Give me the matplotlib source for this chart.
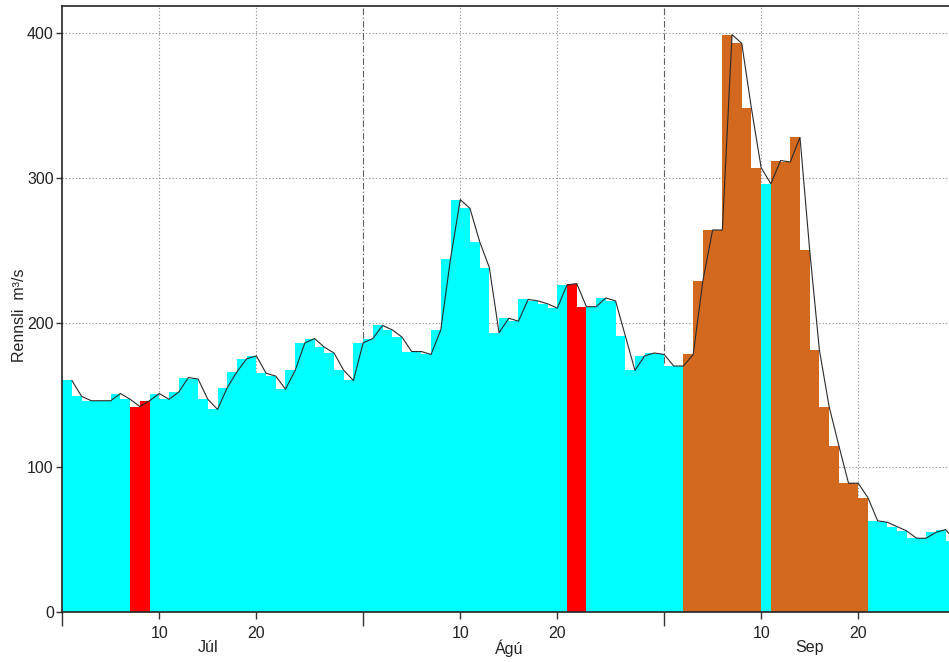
import numpy as np
import matplotlib
matplotlib.use("Agg")
import matplotlib.pyplot as plt
from matplotlib.transforms import blended_transform_factory

plt.rcParams['font.family'] = ['Liberation Sans', 'DejaVu Sans']

# Daily discharge (m3/s), 1 July - 30 September
flow = [
    160, 149, 146, 146, 146, 151, 147, 142, 146, 151,
    147, 152, 162, 161, 147, 140, 155, 166, 175, 177,
    165, 163, 154, 167, 186, 189, 183, 179, 167, 160,
    186, 189, 198, 195, 190, 180, 180, 178, 195, 244,
    285, 279, 256, 238, 193, 203, 201, 216, 215, 213,
    210, 226, 227, 211, 211, 217, 215, 191, 167, 177,
    179, 178, 170, 170, 178, 229, 264, 264, 399, 393,
    348, 307, 296, 312, 311, 328, 250, 181, 142, 115,
    89, 89, 79, 63, 62, 59, 56, 51, 51, 55,
    57, 49,
]

# Days flagged with a different status
red_days = [7, 8, 52, 53]
orange_days = list(range(64, 72)) + list(range(73, 83))

month_names = ["Júl", "Ágú", "Sep"]
month_starts = [0, 31, 62]
day_ticks = [10, 20, 41, 51, 72, 82]
day_labels = ["10", "20", "10", "20", "10", "20"]
y_ticks = [0, 100, 200, 300, 400]

days = np.arange(len(flow))
values = np.array(flow, dtype=float)

colors = []
for d in days:
    if d in red_days:
        colors.append("#ff0000")
    elif d in orange_days:
        colors.append("#d2691e")
    else:
        colors.append("#00ffff")

W, H = 949, 662
fig = plt.figure(figsize=(W / 100, H / 100), dpi=100)
x0, x1, y0, y1 = 62.2, 949.0, 50.0, 656.0
ax = fig.add_axes([x0 / W, y0 / H, (x1 - x0) / W, (y1 - y0) / H])

ax.bar(days, values, width=1.0, align="edge", color=colors,
       linewidth=0, zorder=2)
ax.plot(days + 1, values, color="#2a2a2a", lw=0.8, zorder=3)

ax.set_xlim(0, 91.35)
ax.set_ylim(0, 418.8)

# grid lines
ax.set_axisbelow(True)
for yv in y_ticks[1:]:
    ax.axhline(yv, color="#999999", lw=0.8, ls=(0, (1.2, 1.8)), zorder=1)
for xv in day_ticks:
    ax.axvline(xv, color="#999999", lw=0.8, ls=(0, (1.2, 1.8)), zorder=1)
for xv in month_starts[1:]:
    ax.axvline(xv, color="#606060", lw=0.8, ls=(0, (6, 2, 1.2, 2)), zorder=1)

# spines
ax.spines["right"].set_visible(False)
for s in ["left", "bottom", "top"]:
    ax.spines[s].set_color("#222222")
    ax.spines[s].set_linewidth(1.2)
ax.spines["bottom"].set_zorder(4)

FS = 11.5

# x ticks: long ticks at month starts, short labelled ticks on the 10th/20th
ax.set_xticks(month_starts)
ax.set_xticklabels([""] * len(month_starts))
ax.set_xticks(day_ticks, minor=True)
ax.set_xticklabels(day_labels, minor=True)
ax.tick_params(axis="x", which="major", length=10, width=1.0,
               color="#333333", direction="out")
ax.tick_params(axis="x", which="minor", length=5, width=1.0,
               color="#333333", direction="out", pad=5.0,
               labelsize=FS, labelcolor="#222222")

ax.set_yticks(y_ticks)
ax.set_yticklabels([str(v) for v in y_ticks])
ax.tick_params(axis="y", which="major", length=4.5, width=1.0,
               color="#333333", direction="out", pad=1.5,
               labelsize=FS, labelcolor="#222222")

trans = blended_transform_factory(ax.transData, ax.transAxes)
for start, name in zip(month_starts, month_names):
    ax.text(start + 15, -0.0594, name, transform=trans, ha="center",
            va="center", fontsize=FS, color="#222222")

ax.set_ylabel("Rennsli  m³/s", fontsize=FS, color="#222222")
ax.yaxis.set_label_coords(-0.040, 0.49)

fig.savefig("out.png", dpi=100)
